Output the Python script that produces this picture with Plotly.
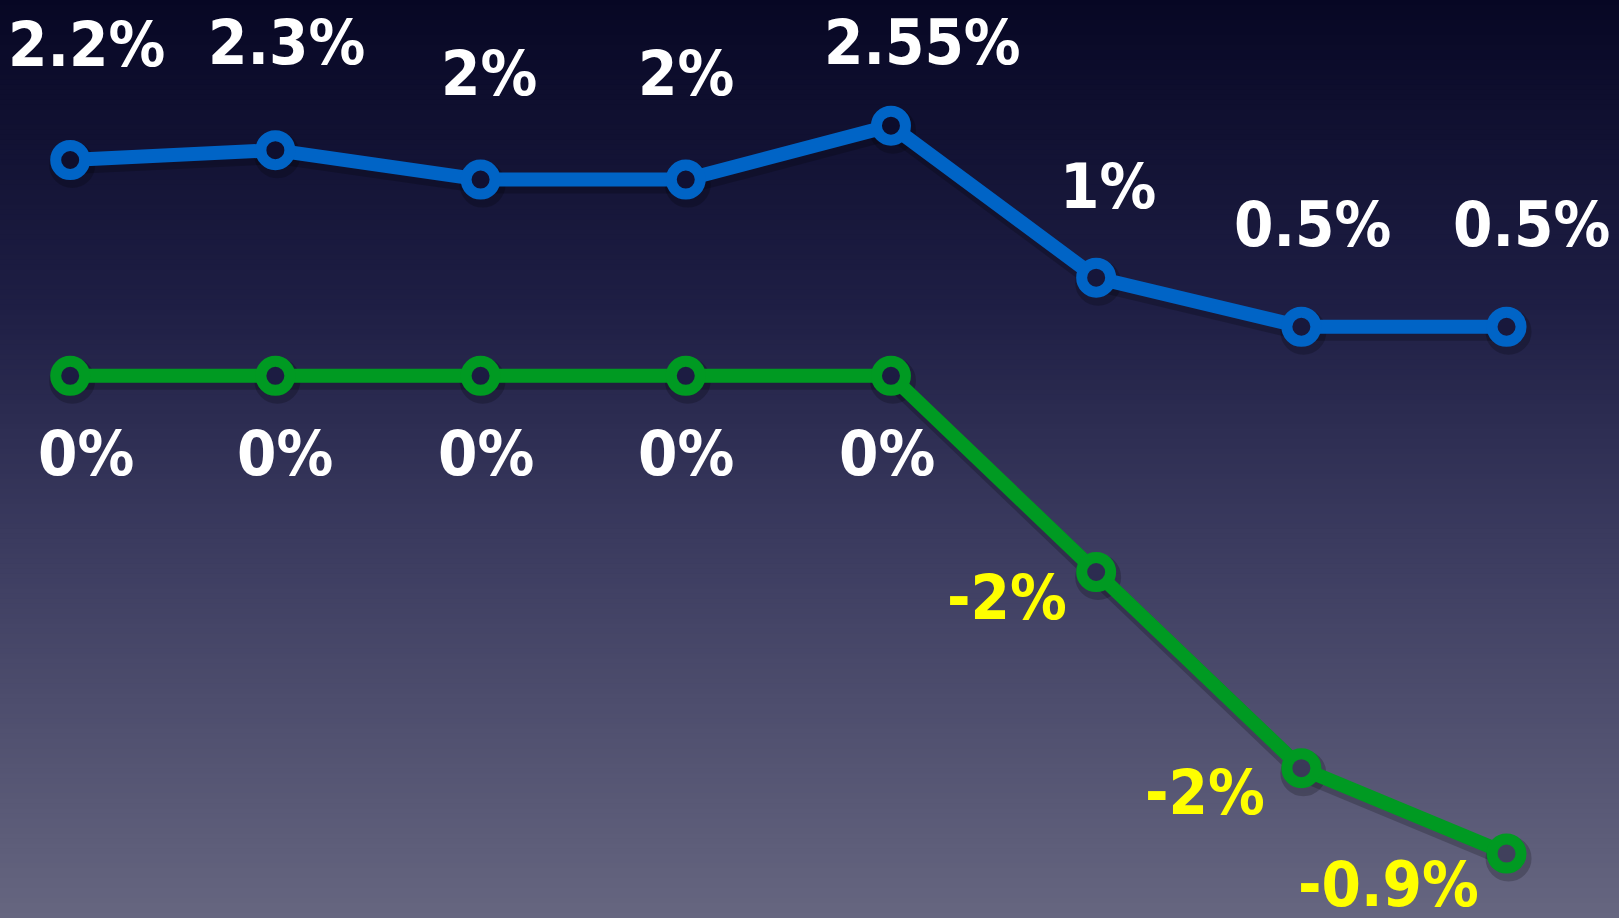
import plotly.graph_objects as go

# ---- data ----
periods = [0, 1, 2, 3, 4, 5, 6, 7]
blue_values = [2.2, 2.3, 2.0, 2.0, 2.55, 1.0, 0.5, 0.5]
blue_labels = ["2.2%", "2.3%", "2%", "2%", "2.55%", "1%", "0.5%", "0.5%"]
green_values = [0, 0, 0, 0, 0, -2.0, -4.0, -4.87]
green_labels = ["0%", "0%", "0%", "0%", "0%", "-2%", "-2%", "-0.9%"]

# ---- styles / layout offsets ----
BLUE = "#0064c6"
GREEN = "#009a22"
FONT = "Liberation Sans Narrow, DejaVu Sans Condensed, Roboto, sans-serif"
FSIZE = 63
W, H = 1619, 918
XR = [-0.342, 7.548]
YR = [-5.527, 3.831]
PX_X = (XR[1] - XR[0]) / W
PX_Y = (YR[1] - YR[0]) / H

blue_holes = ["#0e0e2e", "#0e0e2e", "#101032", "#101032", "#0c0c2c", "#16163a", "#18183c", "#18183c"]
green_holes = ["#1c1c42", "#1c1c42", "#1c1c42", "#1c1c42", "#1c1c42", "#2c2c50", "#3a3a58", "#40405c"]

blue_dx = [16, 11, 8, 0, 32, 12, 11, 25]
blue_dy = [116, 108, 106, 106, 83, 91, 102, 102]
green_dx = [16, 10, 5, 0, -4, -89, -96, -118]
green_dy = [-78, -78, -78, -78, -78, -25, -24, -31]

fig = go.Figure()

# background gradient stripes
top = (7, 7, 36)
mid1 = (30, 30, 68)
mid2 = (60, 60, 96)
bot = (102, 102, 128)
stops = [(0.0, top), (0.33, mid1), (0.6, mid2), (1.0, bot)]


def grad(t):
    for (t0, c0), (t1, c1) in zip(stops[:-1], stops[1:]):
        if t0 <= t <= t1:
            f = (t - t0) / (t1 - t0)
            return "rgb(%d,%d,%d)" % tuple(round(a + (b - a) * f) for a, b in zip(c0, c1))
    return "rgb(%d,%d,%d)" % bot


N = 184
shapes = []
for i in range(N):
    y0 = 1 - i / N
    y1 = 1 - (i + 1) / N
    shapes.append(dict(type="rect", xref="paper", yref="paper", x0=0, x1=1,
                       y0=y1 - 0.002, y1=y0, line=dict(width=0),
                       fillcolor=grad((i + 0.5) / N), layer="below"))

# soft drop shadows (same data on the base axis, which is offset by a few pixels)
for vals in (blue_values, green_values):
    fig.add_trace(go.Scatter(
        x=periods, y=vals, mode="lines+markers", xaxis="x", yaxis="y",
        line=dict(color="rgba(0,0,0,0.2)", width=18),
        marker=dict(size=34, color="rgba(0,0,0,0)", line=dict(color="rgba(0,0,0,0.2)", width=12)),
        hoverinfo="skip", showlegend=False))

fig.add_trace(go.Scatter(
    x=periods, y=blue_values, mode="lines+markers", xaxis="x2", yaxis="y2",
    line=dict(color=BLUE, width=14),
    marker=dict(symbol="circle", size=29, color=blue_holes, line=dict(color=BLUE, width=11)),
    hoverinfo="skip", showlegend=False))
fig.add_trace(go.Scatter(
    x=periods, y=green_values, mode="lines+markers", xaxis="x2", yaxis="y2",
    line=dict(color=GREEN, width=14),
    marker=dict(symbol="circle", size=29, color=green_holes, line=dict(color=GREEN, width=11)),
    hoverinfo="skip", showlegend=False))

annotations = []
for i, (v, t) in enumerate(zip(blue_values, blue_labels)):
    annotations.append(dict(x=periods[i], y=v, xref="x2", yref="y2", text=t, showarrow=False,
                            xshift=blue_dx[i], yshift=blue_dy[i],
                            font=dict(family=FONT, size=FSIZE, color="white", weight="bold")))
for i, (v, t) in enumerate(zip(green_values, green_labels)):
    col = "white" if i < 5 else "#ffff00"
    annotations.append(dict(x=periods[i], y=v, xref="x2", yref="y2", text=t, showarrow=False,
                            xshift=green_dx[i], yshift=green_dy[i],
                            font=dict(family=FONT, size=FSIZE, color=col, weight="bold")))

fig.update_layout(
    width=W, height=H,
    margin=dict(l=0, r=0, t=0, b=0),
    paper_bgcolor="#08082a",
    plot_bgcolor="rgba(0,0,0,0)",
    shapes=shapes,
    annotations=annotations,
    xaxis=dict(range=[XR[0] - 2 * PX_X, XR[1] - 2 * PX_X], visible=False, fixedrange=True),
    yaxis=dict(range=[YR[0] + 5 * PX_Y, YR[1] + 5 * PX_Y], visible=False, fixedrange=True),
    xaxis2=dict(range=XR, visible=False, fixedrange=True, overlaying="x"),
    yaxis2=dict(range=YR, visible=False, fixedrange=True, overlaying="y"),
)

fig.write_html("out.html", include_plotlyjs=True, config={"displayModeBar": False},
               post_script="document.body.style.margin='0';document.body.style.overflow='hidden';")
